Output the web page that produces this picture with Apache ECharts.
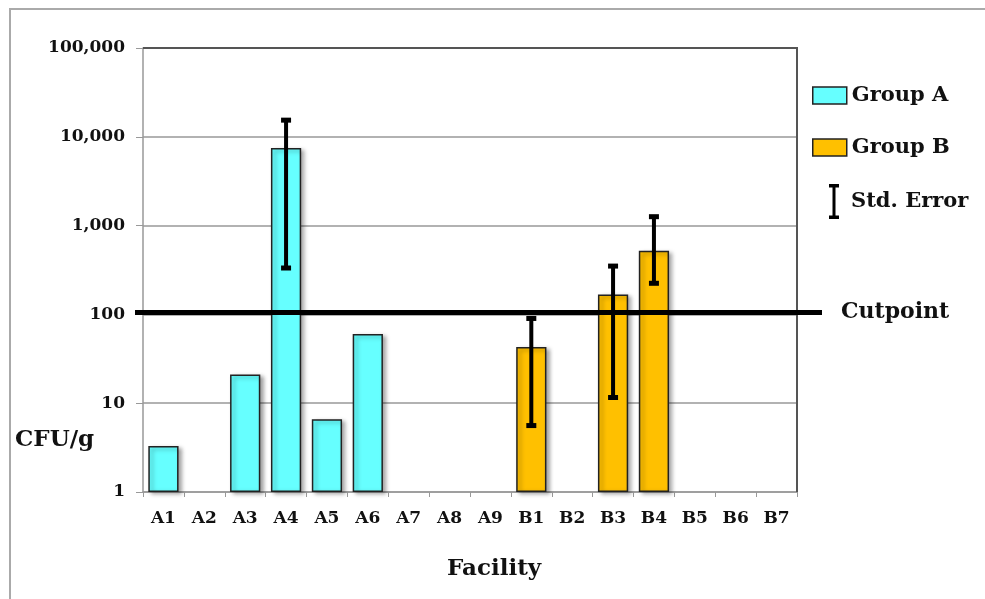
<!DOCTYPE html>
<html>
<head>
<meta charset="utf-8">
<script src="https://cdn.jsdelivr.net/npm/echarts@6/dist/echarts.min.js"></script>
<style>
  html, body { margin: 0; padding: 0; background: #fff; }
  #chart { width: 985px; height: 599px; }
</style>
</head>
<body>
<div id="chart"></div>
<script>
// 数据
var categories = ['A1', 'A2', 'A3', 'A4', 'A5', 'A6', 'A7', 'A8', 'A9', 'B1', 'B2', 'B3', 'B4', 'B5', 'B6', 'B7'];
var groupA = [3.3, '-', 21, 7480, 6.6, 60, '-', '-', '-'];
var groupB = [43, '-', 167, 520, '-', '-', '-'];
// 标准误差 [facility, low, high]
var errFacility = ['A4', 'B1', 'B3', 'B4'];
var errLow = [333, 5.6, 11.6, 224];
var errHigh = [15400, 90, 350, 1260];
var cutpoint = 100;
var yTicks = [1, 10, 100, 1000, 10000, 100000];

var FONT = 'DejaVu Serif';

// 补齐两组数据到16个类目
var seriesA = groupA.concat(groupB.map(function () { return '-'; }));
var seriesB = groupA.map(function () { return '-'; }).concat(groupB);
var errData = errFacility.map(function (f, i) {
  return [categories.indexOf(f), errLow[i], errHigh[i]];
});

var barStyle = function (color) {
  return {
    color: color,
    borderColor: '#222',
    borderWidth: 1.5,
    shadowColor: 'rgba(0,0,0,0.35)',
    shadowBlur: 4,
    shadowOffsetX: 3,
    shadowOffsetY: 2
  };
};

var myChart = echarts.init(document.getElementById('chart'));

var option = {
  backgroundColor: '#fff',
  animation: false,
  grid: {
    left: 143,
    top: 48,
    width: 654,
    height: 444,
    show: false
  },
  legend: [
    {
      data: ['Group A', 'Group B'],
      orient: 'vertical',
      left: 807,
      top: 80,
      icon: 'rect',
      itemWidth: 34,
      itemHeight: 17,
      itemGap: 31,
      textStyle: { fontFamily: FONT, fontWeight: 'bold', fontSize: 21, color: '#111', padding: [0, 0, 0, 0] },
      itemStyle: { borderColor: '#222', borderWidth: 1.5 }
    },
    {
      data: ['Std. Error'],
      left: 824,
      top: 179,
      itemWidth: 10,
      itemHeight: 35,
      icon: 'path://M0,0 H10 V3.5 H6.5 V31.5 H10 V35 H0 V31.5 H3.5 V3.5 H0 Z',
      textStyle: { fontFamily: FONT, fontWeight: 'bold', fontSize: 21, color: '#111', padding: [0, 0, 0, 7] }
    }
  ],
  xAxis: {
    type: 'category',
    data: categories,
    axisLine: { lineStyle: { color: '#999', width: 1.5 } },
    axisTick: { show: true, length: 5, lineStyle: { color: '#999' } },
    axisLabel: { fontFamily: FONT, fontWeight: 'bold', fontSize: 17, color: '#111', margin: 18, interval: 0 },
    splitLine: { show: false }
  },
  yAxis: {
    type: 'log',
    logBase: 10,
    min: yTicks[0],
    max: yTicks[yTicks.length - 1],
    axisLine: { show: true, lineStyle: { color: '#999', width: 1.5 } },
    axisTick: { show: true, length: 7, lineStyle: { color: '#999' } },
    minorTick: { show: false },
    axisLabel: {
      fontFamily: FONT, fontWeight: 'bold', fontSize: 17, color: '#111', margin: 18,
      formatter: function (v) { return Math.round(v).toLocaleString('en-US'); }
    },
    splitLine: { show: true, lineStyle: { color: '#999', width: 1.5 } }
  },
  graphic: [
    // 外框
    {
      type: 'rect',
      shape: { x: 10, y: 9, width: 1200, height: 1200 },
      style: { fill: 'none', stroke: '#aaa', lineWidth: 2 },
      z: -1
    },
    // 绘图区 上/右 边框
    {
      type: 'polyline',
      shape: { points: [[143, 48], [797, 48], [797, 492]] },
      style: { fill: 'none', stroke: '#555', lineWidth: 2 },
      z: 1
    },
    {
      type: 'text',
      left: 15,
      top: 429,
      style: { text: 'CFU/g', fontFamily: FONT, fontWeight: 'bold', fontSize: 23, fill: '#111' }
    },
    {
      type: 'text',
      left: 447,
      top: 558,
      style: { text: 'Facility', fontFamily: FONT, fontWeight: 'bold', fontSize: 23, fill: '#111' }
    }
  ],
  series: [
    {
      name: 'Group A',
      type: 'bar',
      data: seriesA,
      barWidth: '74%',
      barGap: '-100%',
      itemStyle: barStyle('#66FFFF')
    },
    {
      name: 'Group B',
      type: 'bar',
      data: seriesB,
      barWidth: '74%',
      barGap: '-100%',
      itemStyle: barStyle('#FFC000')
    },
    {
      name: 'Std. Error',
      type: 'custom',
      data: errData,
      encode: { x: 0, y: [1, 2] },
      itemStyle: { color: '#000' },
      z: 5,
      renderItem: function (params, api) {
        var lo = api.coord([api.value(0), api.value(1)]);
        var hi = api.coord([api.value(0), api.value(2)]);
        var cap = 5;
        return {
          type: 'group',
          children: [
            { type: 'line', shape: { x1: lo[0], y1: lo[1], x2: hi[0], y2: hi[1] }, style: { stroke: '#000', lineWidth: 4 } },
            { type: 'line', shape: { x1: hi[0] - cap, y1: hi[1], x2: hi[0] + cap, y2: hi[1] }, style: { stroke: '#000', lineWidth: 5 } },
            { type: 'line', shape: { x1: lo[0] - cap, y1: lo[1], x2: lo[0] + cap, y2: lo[1] }, style: { stroke: '#000', lineWidth: 5 } }
          ]
        };
      }
    },
    {
      name: 'Cutpoint',
      type: 'custom',
      data: [[0, cutpoint]],
      encode: { x: 0, y: 1 },
      z: 6,
      silent: true,
      renderItem: function (params, api) {
        var cs = params.coordSys;
        var p = api.coord([0, api.value(1)]);
        return {
          type: 'group',
          children: [
            {
              type: 'line',
              shape: { x1: cs.x - 8, y1: p[1] - 2, x2: cs.x + cs.width + 25, y2: p[1] - 2 },
              style: { stroke: '#000', lineWidth: 5 }
            },
            {
              type: 'text',
              x: cs.x + cs.width + 44,
              y: p[1] - 2,
              style: {
                text: 'Cutpoint', fontFamily: FONT, fontWeight: 'bold', fontSize: 22,
                fill: '#111', verticalAlign: 'middle', align: 'left'
              }
            }
          ]
        };
      }
    }
  ]
};

myChart.setOption(option);
</script>
</body>
</html>
